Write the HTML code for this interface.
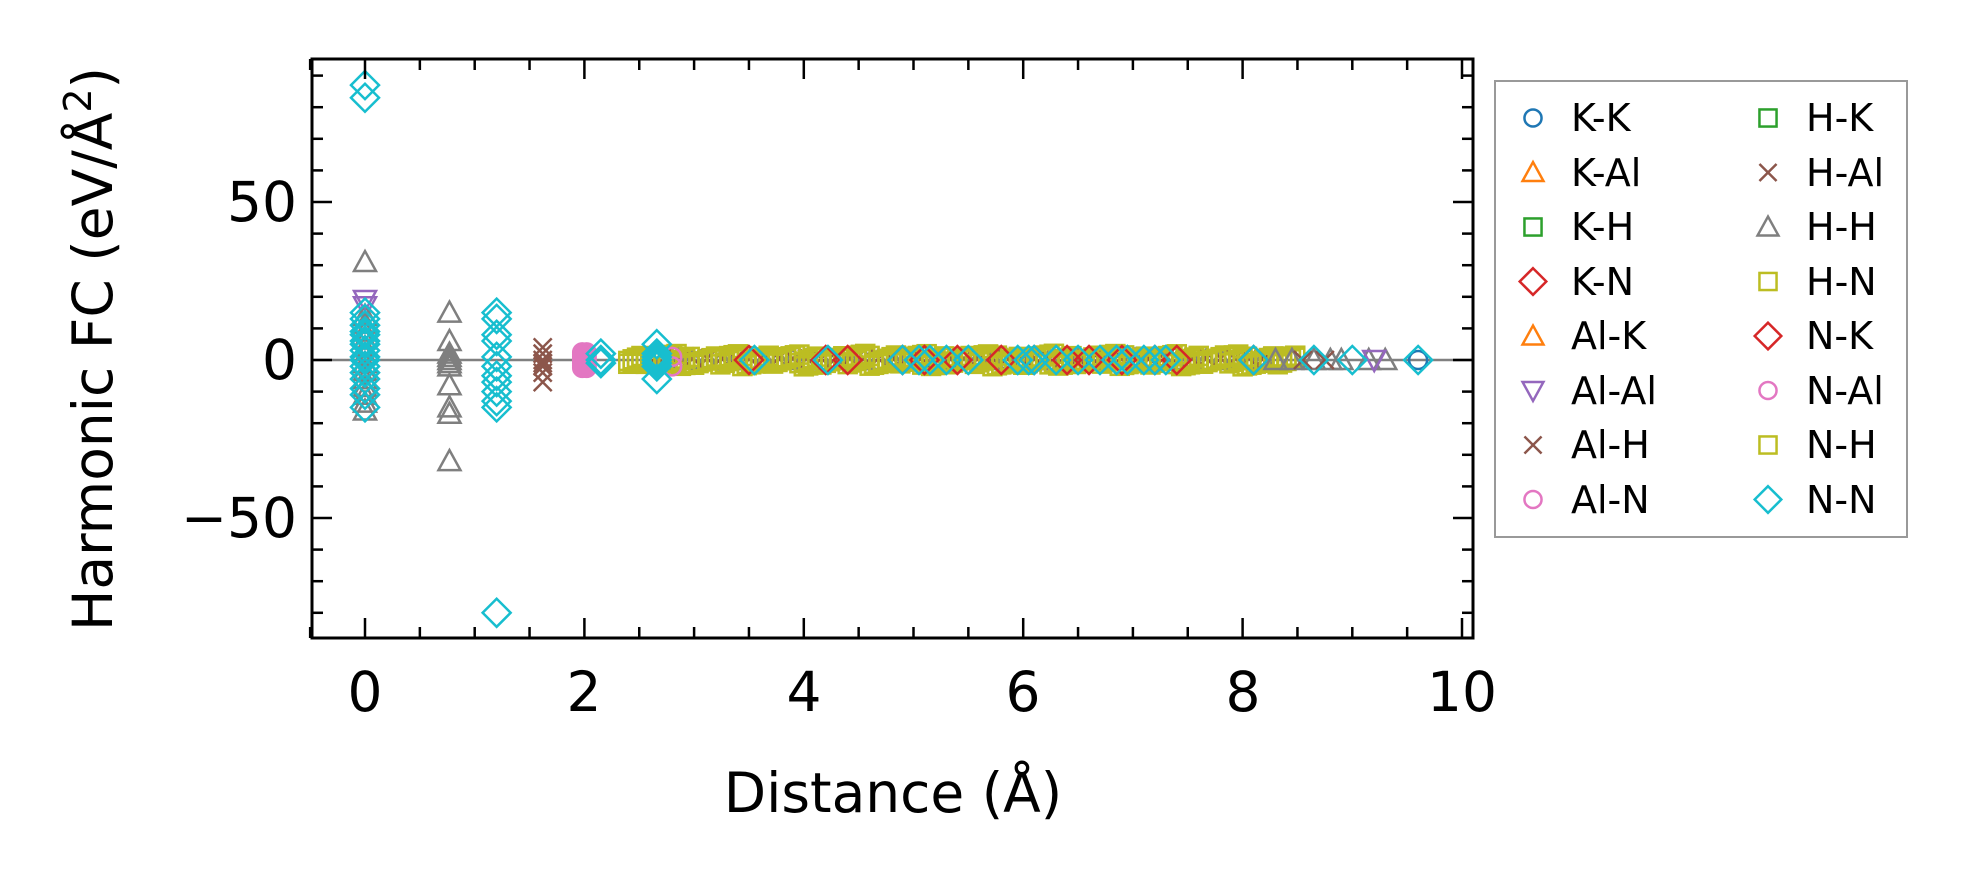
<!DOCTYPE html>
<html><head><meta charset="utf-8"><style>
body{margin:0;background:#fff;}
svg{display:block;font-family:"DejaVu Sans","Liberation Sans",sans-serif;}
</style></head><body>
<svg id="s" width="1968" height="883" viewBox="0 0 1968 883" xmlns="http://www.w3.org/2000/svg">
<rect width="1968" height="883" fill="#fff"/>
<defs><clipPath id="c"><rect x="312" y="59" width="1161" height="579"/></clipPath></defs>
<line x1="312" y1="360" x2="1473" y2="360" stroke="#808080" stroke-width="2.5"/>
<g id="pts" clip-path="url(#c)" fill="none" stroke-width="2.5"></g>
<rect x="312" y="59" width="1161" height="579" fill="none" stroke="#000" stroke-width="3"/>
<g id="ticks" stroke="#000" stroke-width="2.5"></g>
<g font-size="55" fill="#000" text-anchor="middle">
<text x="365" y="711">0</text><text x="584" y="711">2</text><text x="804" y="711">4</text><text x="1023" y="711">6</text><text x="1243" y="711">8</text><text x="1462" y="711">10</text>
</g>
<g font-size="55" fill="#000" text-anchor="end">
<text x="297" y="221">50</text><text x="297" y="379">0</text><text x="297" y="537">−50</text>
</g>
<text x="893" y="812" font-size="55" text-anchor="middle">Distance (Å)</text>
<text transform="translate(112,349) rotate(-90)" font-size="55" text-anchor="middle">Harmonic FC (eV/Å<tspan font-size="38" dy="-21">2</tspan><tspan dy="21">)</tspan></text>
<rect x="1495" y="81" width="412" height="456" fill="#fff" stroke="#999" stroke-width="2"/>
<g id="leg" fill="none" stroke-width="2.5"></g>
<g font-size="38" fill="#000">
<text x="1571" y="131">K-K</text><text x="1571" y="186">K-Al</text><text x="1571" y="240">K-H</text><text x="1571" y="295">K-N</text><text x="1571" y="349">Al-K</text><text x="1571" y="404">Al-Al</text><text x="1571" y="458">Al-H</text><text x="1571" y="513">Al-N</text>
<text x="1806" y="131">H-K</text><text x="1806" y="186">H-Al</text><text x="1806" y="240">H-H</text><text x="1806" y="295">H-N</text><text x="1806" y="349">N-K</text><text x="1806" y="404">N-Al</text><text x="1806" y="458">N-H</text><text x="1806" y="513">N-N</text>
</g>
</svg>
<script>
var NS="http://www.w3.org/2000/svg";
function el(p,t,a){var e=document.createElementNS(NS,t);for(var k in a)e.setAttribute(k,a[k]);p.appendChild(e);return e;}
var X=function(d){return 365+109.7*d},Y=function(v){return 360-3.16*v};
var tk=document.getElementById('ticks');
for(var d=-0.5;d<=10.01;d+=0.5){var x=X(d),L=(Math.abs(d%2)<0.01)?20:11;
el(tk,'line',{x1:x,y1:638,x2:x,y2:638-L});el(tk,'line',{x1:x,y1:59,x2:x,y2:59+L});}
for(var v=-80;v<=90;v+=10){var y=Y(v),L=(v%50==0)?20:11;
el(tk,'line',{x1:312,y1:y,x2:312+L,y2:y});el(tk,'line',{x1:1473,y1:y,x2:1473-L,y2:y});}
function mk(g,type,col,x,y,s){s=s||1;
 if(type=='o')el(g,'circle',{cx:x,cy:y,r:9*s,stroke:col});
 else if(type=='^')el(g,'polygon',{points:(x)+','+(y-11*s)+' '+(x-11*s)+','+(y+9*s)+' '+(x+11*s)+','+(y+9*s),stroke:col});
 else if(type=='v')el(g,'polygon',{points:(x)+','+(y+11*s)+' '+(x-11*s)+','+(y-9*s)+' '+(x+11*s)+','+(y-9*s),stroke:col});
 else if(type=='s')el(g,'rect',{x:x-9*s,y:y-9*s,width:18*s,height:18*s,stroke:col});
 else if(type=='x'){el(g,'line',{x1:x-9*s,y1:y-9*s,x2:x+9*s,y2:y+9*s,stroke:col});el(g,'line',{x1:x-9*s,y1:y+9*s,x2:x+9*s,y2:y-9*s,stroke:col});}
 else if(type=='d')el(g,'polygon',{points:x+','+(y-14*s)+' '+(x+14*s)+','+y+' '+x+','+(y+14*s)+' '+(x-14*s)+','+y,stroke:col});
}
var C={b:'#1f77b4',o:'#ff7f0e',g:'#2ca02c',r:'#d62728',p:'#9467bd',br:'#8c564b',pk:'#e377c2',gr:'#7f7f7f',ol:'#bcbd22',cy:'#17becf'};
var lg=document.getElementById('leg');
var L1=[['o',C.b],['^',C.o],['s',C.g],['d',C.r],['^',C.o],['v',C.p],['x',C.br],['o',C.pk]];
var L2=[['s',C.g],['x',C.br],['^',C.gr],['s',C.ol],['d',C.r],['o',C.pk],['s',C.ol],['d',C.cy]];
for(var i=0;i<8;i++){var y=118+54.5*i;mk(lg,L1[i][0],L1[i][1],1533,y,0.95);mk(lg,L2[i][0],L2[i][1],1768,y,0.95);}
var g=document.getElementById('pts');
function P(t,c,d,v){mk(g,t,c,X(d),Y(v));}
for(var d=2.6;d<=8.3;d+=0.13){P('^',C.gr,d,0);P('x',C.br,d,0.5);}
// dense middle band
for(var d=2.4;d<=8.5;d+=0.04){P('s',C.ol,d,((d*7)%4)-2);P('s',C.ol,d,((d*13)%3)-1.5);}
[3.5,4.2,4.4,4.9,5.1,5.4,5.8,6.1,6.4,6.6,6.9,7.2,7.4,8.1].forEach(function(d){P('d',C.r,d,0);});
[3.55,4.22,4.9,5.05,5.15,5.3,5.5,5.95,6.05,6.1,6.3,6.5,6.7,6.85,6.95,7.1,7.2,7.3,8.1].forEach(function(d){P('d',C.cy,d,0);});
[8.3,8.45,8.65,8.8,8.9,9.15,9.3].forEach(function(d){P('^',C.gr,d,0);});
[8.55,8.75].forEach(function(d){P('x',C.br,d,0);});
P('v',C.p,9.2,0);P('d',C.cy,8.65,0);P('d',C.cy,9.0,0);P('o',C.b,9.6,0);P('d',C.cy,9.6,0);
// x=0
P('^',C.gr,0,31);P('v',C.p,0,19);P('v',C.p,0,17);
for(var v=-16;v<=16;v+=2.5)P('^',C.gr,0,v);
[-15,-11,-9,-6,-4,-2,0,1,3,5,6,8,9,11,13,15].forEach(function(v){P('d',C.cy,0,v);});
P('d',C.cy,0,83);P('d',C.cy,0,87);
// x=0.77
[15,6,2,1,0,-1,-2,-8,-15,-17,-32].forEach(function(v){P('^',C.gr,0.77,v);});
// x=1.2
[15,13,8,6,1,-2,-5,-7,-10,-13,-15].forEach(function(v){P('d',C.cy,1.2,v);});
P('d',C.cy,1.2,-80);
// x=1.62
[4,2,0,-1,-2,-4,-7].forEach(function(v){P('x',C.br,1.62,v);});
// x=2
for(var v=-2.5;v<=2.5;v+=0.7){P('o',C.pk,1.98,v);P('o',C.pk,2.02,v);}
[2,0,-1].forEach(function(v){P('d',C.cy,2.15,v);});
P('o',C.pk,2.8,1);P('o',C.pk,2.8,-2);
[5,2,1,0,-1,-2,-6].forEach(function(v){P('d',C.cy,2.66,v);});
</script>
</body></html>
